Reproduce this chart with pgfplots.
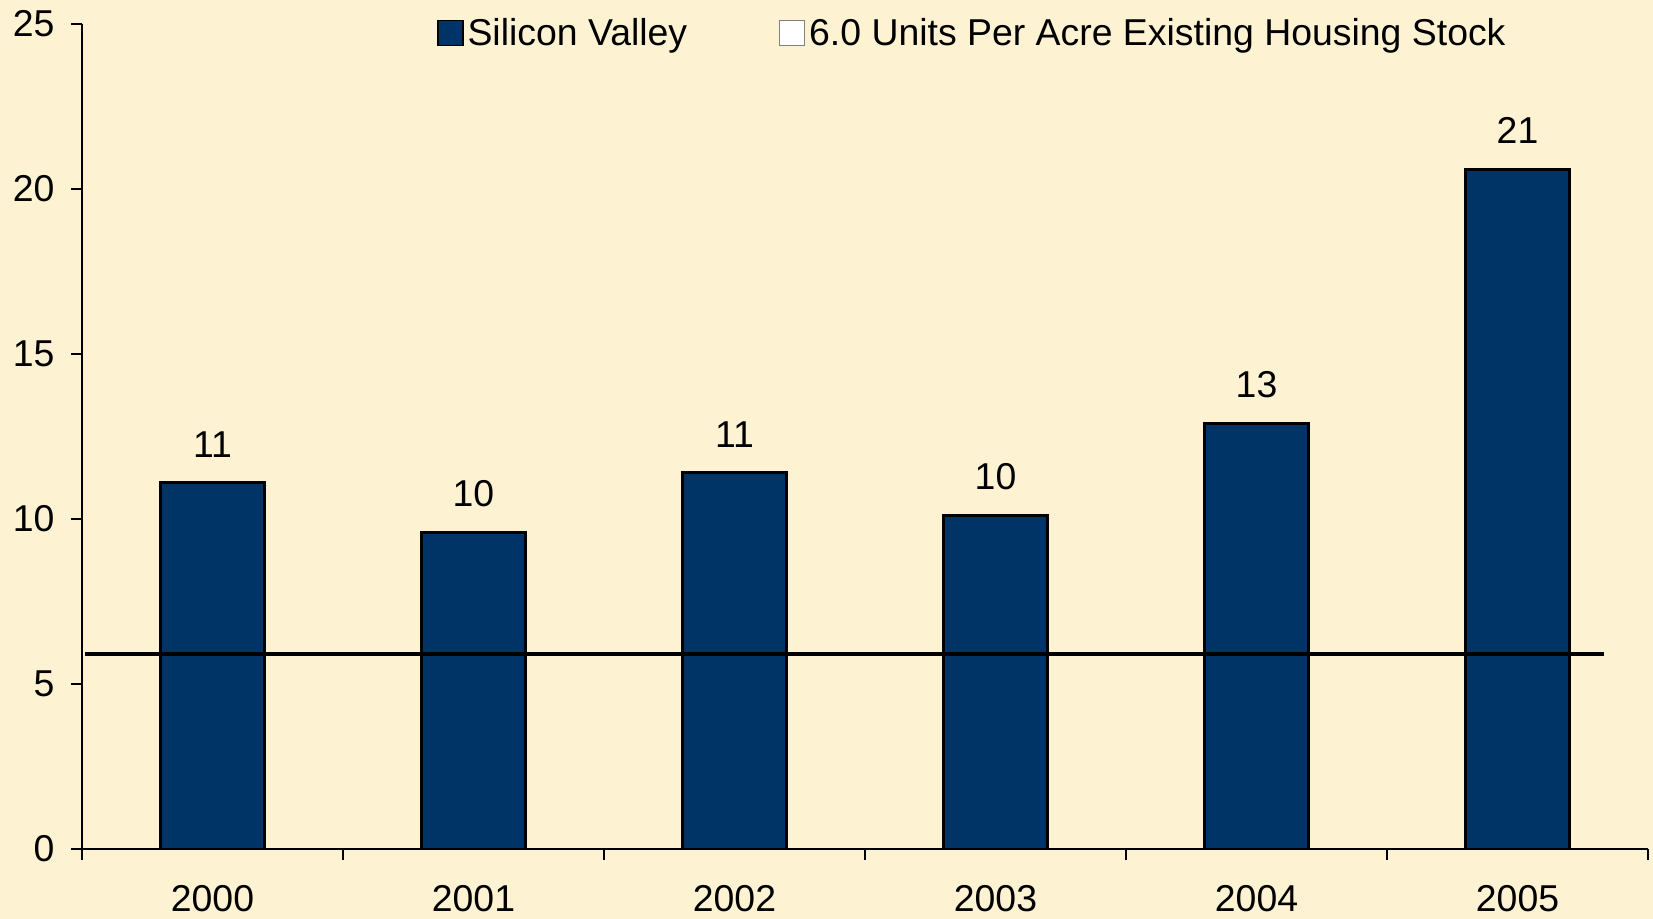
\documentclass[border=0pt]{standalone}
\usepackage{pgfplots}
\pgfplotsset{compat=1.18}
\usepackage{fontspec}
\setmainfont{Liberation Sans}
\definecolor{bg}{RGB}{253,243,210}
\definecolor{barc}{RGB}{0,51,102}
\begin{document}
\begin{tikzpicture}
\fill[bg] (0,0) rectangle (826.5bp,459.5bp);
\begin{axis}[
 at={(41bp,35bp)}, anchor=south west,
 scale only axis, width=783bp, height=412.5bp,
 xmin=-0.5, xmax=5.5, ymin=0, ymax=25,
 axis lines*=left,
 axis line style={black, line width=0.6bp},
 xtick={0,...,5}, xticklabels={2000,2001,2002,2003,2004,2005},
 minor xtick={-0.5,0.5,...,5.5},
 ytick={0,5,...,25},
 tick align=outside,
 major tick length=5.5bp, minor tick length=5.5bp,
 every tick/.style={black, line width=0.6bp},
 major x tick style={draw=none},
 tick label style={font=\fontsize{18.7bp}{22bp}\selectfont},
 xticklabel style={yshift=-9bp},
 yticklabel style={xshift=-4.75bp},
 /pgf/number format/assume math mode=true,
 legend style={at={(0.2226,0.989)}, anchor=west, draw=none, fill=none,
   font=\fontsize{18.7bp}{22bp}\selectfont, legend columns=2,
   /tikz/every even column/.append style={column sep=44bp}},
 legend cell align=left,
]
\addplot[ybar, bar width=0.4, fill=barc, draw=black, line width=1.4bp,
  nodes near coords={\pgfmathprintnumber[fixed,precision=0]{\pgfplotspointmeta}},
  nodes near coords style={font=\fontsize{18.7bp}{22bp}\selectfont, text=black, inner sep=0pt, yshift=12bp},
  legend image code/.code={\draw[line width=0.8bp, black, fill=barc] (0bp,-6.25bp) rectangle (12.5bp,6.25bp);}]
 coordinates {(0,11.1) (1,9.6) (2,11.4) (3,10.1) (4,12.9) (5,20.6)};
\addlegendentry{Silicon Valley}
\addplot[black, line width=2bp, mark=none,
  legend image code/.code={\draw[line width=0.5bp, gray, fill=white] (0bp,-6.25bp) rectangle (12.5bp,6.25bp);}]
 coordinates {(-0.49,5.9) (5.33,5.9)};
\addlegendentry{6.0 Units Per Acre Existing Housing Stock}
\end{axis}
\pgfresetboundingbox
\useasboundingbox (0,0) rectangle (826.5bp,459.5bp);
\end{tikzpicture}
\end{document}
